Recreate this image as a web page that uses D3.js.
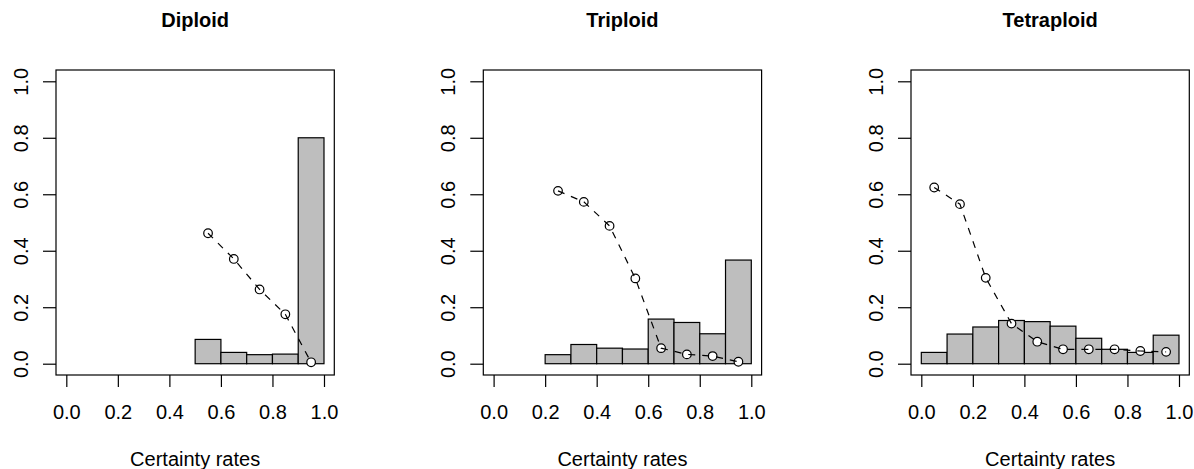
<!DOCTYPE html>
<html>
<head>
<meta charset="utf-8">
<script src="https://cdn.jsdelivr.net/npm/d3@7"></script>
<style>
  body { margin: 0; background: #fff; }
  svg text { font-family: "Liberation Sans", Arial, Helvetica, sans-serif; }
</style>
</head>
<body>
<div id="dataviz_certainty"></div>
<script>

// ━━━━━━━━━━━━━━━━━━━━━━━━━━━━━━━━━━━━━━━━━━━━━━━━━━━━━━━━━━━━━━━━━━━━━━━━━━━━━━
// Data /////////////////////////////////////////////////////////////////////////
// ━━━━━━━━━━━━━━━━━━━━━━━━━━━━━━━━━━━━━━━━━━━━━━━━━━━━━━━━━━━━━━━━━━━━━━━━━━━━━━

const panel_titles = ['Diploid', 'Triploid', 'Tetraploid'];
const x_title = 'Certainty rates';
const axis_ticks = [0, 0.2, 0.4, 0.6, 0.8, 1.0];
const bin_width = 0.1;

// histograma: límite inferior de cada bin y su proporción
const diploid_bins    = [0.5, 0.6, 0.7, 0.8, 0.9];
const diploid_freq    = [0.086, 0.040, 0.032, 0.034, 0.800];
const triploid_bins   = [0.2, 0.3, 0.4, 0.5, 0.6, 0.7, 0.8, 0.9];
const triploid_freq   = [0.032, 0.068, 0.055, 0.052, 0.158, 0.146, 0.106, 0.367];
const tetraploid_bins = [0.0, 0.1, 0.2, 0.3, 0.4, 0.5, 0.6, 0.7, 0.8, 0.9];
const tetraploid_freq = [0.040, 0.105, 0.130, 0.153, 0.149, 0.133, 0.090, 0.051, 0.040, 0.101];

// puntos (línea punteada): centro del bin y tasa
const diploid_mids    = [0.55, 0.65, 0.75, 0.85, 0.95];
const diploid_rate    = [0.462, 0.371, 0.263, 0.175, 0.005];
const triploid_mids   = [0.25, 0.35, 0.45, 0.55, 0.65, 0.75, 0.85, 0.95];
const triploid_rate   = [0.612, 0.573, 0.488, 0.302, 0.055, 0.033, 0.027, 0.007];
const tetraploid_mids = [0.05, 0.15, 0.25, 0.35, 0.45, 0.55, 0.65, 0.75, 0.85, 0.95];
const tetraploid_rate = [0.624, 0.565, 0.304, 0.142, 0.078, 0.051, 0.051, 0.051, 0.045, 0.042];

const panels = [
  { title: panel_titles[0], bins: diploid_bins,    freq: diploid_freq,    mids: diploid_mids,    rate: diploid_rate },
  { title: panel_titles[1], bins: triploid_bins,   freq: triploid_freq,   mids: triploid_mids,   rate: triploid_rate },
  { title: panel_titles[2], bins: tetraploid_bins, freq: tetraploid_freq, mids: tetraploid_mids, rate: tetraploid_rate },
];

// ━━━━━━━━━━━━━━━━━━━━━━━━━━━━━━━━━━━━━━━━━━━━━━━━━━━━━━━━━━━━━━━━━━━━━━━━━━━━━━
// SVG setup ////////////////////////////////////////////////////////////////////
// ━━━━━━━━━━━━━━━━━━━━━━━━━━━━━━━━━━━━━━━━━━━━━━━━━━━━━━━━━━━━━━━━━━━━━━━━━━━━━━

const width = 1194, height = 469;
const box_left = [56, 483.3, 911];
const box_w = 278.3;
const box_top = 70, box_bottom = 375;
const lw = 1.2;

const svg = d3.select('#dataviz_certainty').append('svg')
  .attr('xmlns', 'http://www.w3.org/2000/svg')
  .attr('viewBox', [0, 0, width, height])
  .attr('width', width)
  .attr('height', height);

svg.append('rect').attr('width', width).attr('height', height).attr('fill', '#fff');

const fmt = d3.format('.1f');

panels.forEach((p, i) => {

  const x = d3.scaleLinear().domain([-0.04, 1.04]).range([box_left[i], box_left[i] + box_w]);
  const y = d3.scaleLinear().domain([-0.04, 1.04]).range([box_bottom, box_top]);

  const g = svg.append('g').attr('id', 'panel-' + p.title.toLowerCase());

  // Bars ///////////////////////////////////////////////////////////////////
  g.append('g').attr('class', 'bars')
    .selectAll('rect')
    .data(p.bins.map((b, j) => ({ x0: b, x1: b + bin_width, v: p.freq[j] })))
    .join('rect')
    .attr('x', d => x(d.x0))
    .attr('y', d => y(d.v))
    .attr('width', d => x(d.x1) - x(d.x0))
    .attr('height', d => y(0) - y(d.v))
    .attr('fill', '#bebebe')
    .attr('stroke', '#000')
    .attr('stroke-width', lw);

  // Puntos + línea punteada ////////////////////////////////////////////////
  const pts = p.mids.map((m, j) => [m, p.rate[j]]);

  g.append('g').attr('class', 'points')
    .selectAll('circle')
    .data(pts)
    .join('circle')
    .attr('cx', d => x(d[0]))
    .attr('cy', d => y(d[1]))
    .attr('r', 4.3)
    .attr('fill', '#fff')
    .attr('stroke', '#000')
    .attr('stroke-width', lw);

  g.append('path')
    .datum(pts)
    .attr('d', d3.line().x(d => x(d[0])).y(d => y(d[1])))
    .attr('fill', 'none')
    .attr('stroke', '#000')
    .attr('stroke-width', lw)
    .attr('stroke-dasharray', '7,7');

  // Box ////////////////////////////////////////////////////////////////////
  g.append('rect')
    .attr('x', box_left[i]).attr('y', box_top)
    .attr('width', box_w).attr('height', box_bottom - box_top)
    .attr('fill', 'none').attr('stroke', '#000').attr('stroke-width', lw);

  // Axes ///////////////////////////////////////////////////////////////////
  const xAxis = g.append('g')
    .attr('transform', `translate(0,${box_bottom})`)
    .call(d3.axisBottom(x).tickValues(axis_ticks).tickFormat(fmt).tickSize(12).tickSizeOuter(0).tickPadding(18));

  const yAxis = g.append('g')
    .attr('transform', `translate(${box_left[i]},0)`)
    .call(d3.axisLeft(y).tickValues(axis_ticks).tickFormat(fmt).tickSize(13).tickSizeOuter(0));

  [xAxis, yAxis].forEach(a => {
    a.select('.domain').remove();
    a.selectAll('line').attr('stroke', '#000').attr('stroke-width', lw);
    a.selectAll('text').attr('fill', '#000').attr('font-size', 20);
  });

  yAxis.selectAll('text')
    .attr('transform', 'rotate(-90)')
    .attr('x', 0)
    .attr('y', -28.5)
    .attr('dy', 0)
    .attr('text-anchor', 'middle');

  // Títulos ////////////////////////////////////////////////////////////////
  const cx = box_left[i] + box_w / 2;

  g.append('text')
    .attr('x', cx).attr('y', 27)
    .attr('text-anchor', 'middle')
    .attr('font-size', 20)
    .attr('font-weight', 'bold')
    .text(p.title);

  g.append('text')
    .attr('x', cx).attr('y', 466)
    .attr('text-anchor', 'middle')
    .attr('font-size', 20)
    .text(x_title);
});

</script>
</body>
</html>
